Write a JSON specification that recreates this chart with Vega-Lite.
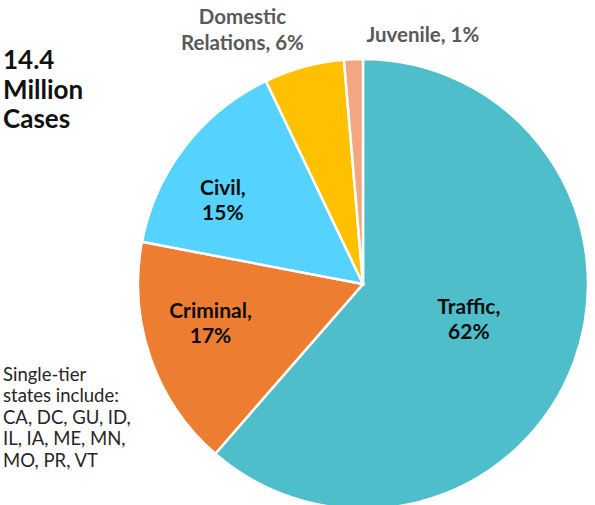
{
  "$schema": "https://vega.github.io/schema/vega-lite/v6.json",
  "width": 452,
  "height": 440,
  "autosize": {"type": "none"},
  "padding": {"left": 137, "top": 64, "right": 6, "bottom": 1},
  "background": "white",
  "config": {"view": {"stroke": null}, "font": "Lato"},
  "title": {
    "text": ["14.4", "Million", "Cases"],
    "subtitle": ["Single-tier", "states include:", "CA, DC, GU, ID,", "IL, IA, ME, MN,", "MO, PR, VT"],
    "orient": "bottom",
    "anchor": "start",
    "frame": "group",
    "align": "left",
    "offset": 0,
    "dx": -134,
    "dy": -466,
    "font": "Lato",
    "fontSize": 26,
    "fontWeight": "bold",
    "color": "#111111",
    "lineHeight": 29.5,
    "subtitleFont": "Lato",
    "subtitleFontSize": 18.5,
    "subtitleFontWeight": "normal",
    "subtitleColor": "#262626",
    "subtitleLineHeight": 21.5,
    "subtitlePadding": 232.5
  },
  "data": {
    "values": [
      {"category": "Traffic", "share": 61.4, "rank": 1, "label": "Traffic,\n62%"},
      {"category": "Criminal", "share": 16.6, "rank": 2, "label": "Criminal,\n17%"},
      {"category": "Civil", "share": 14.9, "rank": 3, "label": "Civil,\n15%"},
      {"category": "Domestic Relations", "share": 5.75, "rank": 4, "label": "Domestic\nRelations, 6%"},
      {"category": "Juvenile", "share": 1.35, "rank": 5, "label": "Juvenile, 1%"}
    ]
  },
  "encoding": {
    "theta": {"field": "share", "type": "quantitative", "stack": true},
    "order": {"field": "rank", "type": "quantitative"}
  },
  "layer": [
    {
      "mark": {"type": "arc", "radius": 225, "stroke": "white", "strokeWidth": 2.5},
      "encoding": {
        "color": {
          "field": "category",
          "type": "nominal",
          "scale": {
            "domain": ["Traffic", "Criminal", "Civil", "Domestic Relations", "Juvenile"],
            "range": ["#4FBECB", "#ED7D31", "#56D2FE", "#FFC000", "#F4A683"]
          },
          "legend": null
        }
      }
    },
    {
      "mark": {"type": "text", "radius": 113, "dy": -16, "font": "Lato", "fontSize": 21, "fontWeight": "bold", "color": "#0d0d0d", "lineBreak": "\n", "lineHeight": 25, "align": "center", "baseline": "middle"},
      "encoding": {
        "detail": {"field": "category", "type": "nominal"},
        "text": {"condition": {"test": "datum.category === 'Traffic'", "field": "label"}, "value": ""}
      }
    },
    {
      "mark": {"type": "text", "radius": 155, "dx": -6, "dy": -23, "font": "Lato", "fontSize": 21, "fontWeight": "bold", "color": "#0d0d0d", "lineBreak": "\n", "lineHeight": 25, "align": "center", "baseline": "middle"},
      "encoding": {
        "detail": {"field": "category", "type": "nominal"},
        "text": {"condition": {"test": "datum.category === 'Criminal'", "field": "label"}, "value": ""}
      }
    },
    {
      "mark": {"type": "text", "radius": 163, "dx": -11, "dy": 4, "font": "Lato", "fontSize": 21, "fontWeight": "bold", "color": "#0d0d0d", "lineBreak": "\n", "lineHeight": 25, "align": "center", "baseline": "middle"},
      "encoding": {
        "detail": {"field": "category", "type": "nominal"},
        "text": {"condition": {"test": "datum.category === 'Civil'", "field": "label"}, "value": ""}
      }
    },
    {
      "mark": {"type": "text", "radius": 265, "dx": -51, "dy": -10, "font": "Lato", "fontSize": 20.5, "fontWeight": "bold", "color": "#595959", "lineBreak": "\n", "lineHeight": 26, "align": "center", "baseline": "middle"},
      "encoding": {
        "detail": {"field": "category", "type": "nominal"},
        "text": {"condition": {"test": "datum.category === 'Domestic Relations'", "field": "label"}, "value": ""}
      }
    },
    {
      "mark": {"type": "text", "radius": 248, "dx": 14, "font": "Lato", "fontSize": 20.5, "fontWeight": "bold", "color": "#595959", "align": "left", "baseline": "middle"},
      "encoding": {
        "detail": {"field": "category", "type": "nominal"},
        "text": {"condition": {"test": "datum.category === 'Juvenile'", "field": "label"}, "value": ""}
      }
    }
  ]
}
